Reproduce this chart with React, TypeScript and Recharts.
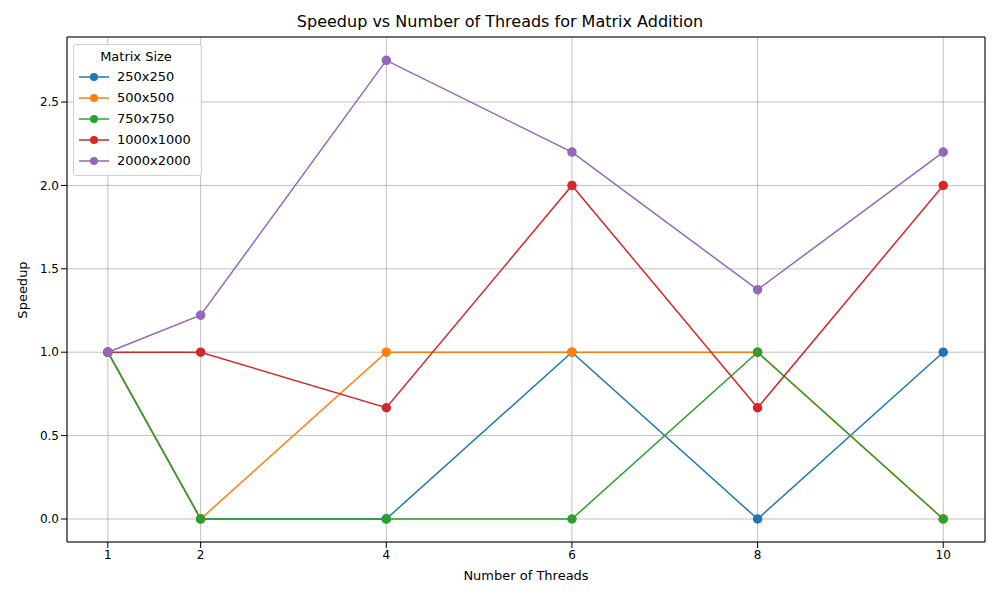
import { LineChart, Line, XAxis, YAxis, CartesianGrid, ReferenceArea } from "recharts";

document.body.style.margin = "0";

const threads = [1, 2, 4, 6, 8, 10];
const s250 = [1, 0, 0, 1, 0, 1];
const s500 = [1, 0, 1, 1, 1, 0];
const s750 = [1, 0, 0, 0, 1, 0];
const s1000 = [1, 1, 0.667, 2, 0.667, 2];
const s2000 = [1, 1.222, 2.75, 2.2, 1.375, 2.2];

const series = [
  { key: "s250", name: "250x250", color: "#1f77b4", values: s250 },
  { key: "s500", name: "500x500", color: "#ff7f0e", values: s500 },
  { key: "s750", name: "750x750", color: "#2ca02c", values: s750 },
  { key: "s1000", name: "1000x1000", color: "#d62728", values: s1000 },
  { key: "s2000", name: "2000x2000", color: "#9467bd", values: s2000 },
];

const data = threads.map((t, i) => {
  const row: Record<string, number> = { t };
  series.forEach((s) => (row[s.key] = s.values[i]));
  return row;
});

const font = "DejaVu Sans";

function LegendBox() {
  return (
    <div
      style={{
        position: "absolute",
        left: 73,
        top: 44,
        zIndex: 2,
        border: "1px solid #d0d0d0",
        borderRadius: 3,
        background: "rgba(255,255,255,0.85)",
        padding: "4px 8px 4px 5px",
        fontFamily: font,
        fontSize: 13,
        width: 114,
      }}
    >
      <div style={{ textAlign: "center", marginBottom: 2 }}>Matrix Size</div>
      {series.map((s) => (
        <div key={s.key} style={{ display: "flex", alignItems: "center", height: 21 }}>
          <svg width={30} height={12} style={{ marginRight: 8 }}>
            <line x1={0} y1={6} x2={30} y2={6} stroke={s.color} strokeWidth={1.5} />
            <circle cx={15} cy={6} r={4} fill={s.color} />
          </svg>
          {s.name}
        </div>
      ))}
    </div>
  );
}

export default function App() {
  return (
    <div style={{ position: "relative", width: 1000, height: 600, background: "#fff", fontFamily: font }}>
      <div style={{ position: "absolute", top: 12, width: 1000, textAlign: "center", fontSize: 16 }}>
        Speedup vs Number of Threads for Matrix Addition
      </div>
      <div style={{ position: "absolute", top: 568, left: 67, width: 918, textAlign: "center", fontSize: 13 }}>
        Number of Threads
      </div>
      <div
        style={{
          position: "absolute",
          left: 22,
          top: 290,
          transform: "translate(-50%,-50%) rotate(-90deg)",
          fontSize: 13,
        }}
      >
        Speedup
      </div>
      <LegendBox />
      <LineChart width={1000} height={600} data={data} margin={{ top: 37, right: 15, bottom: 0, left: 0 }}>
        <CartesianGrid stroke="#b0b0b0" strokeWidth={0.8} />
        <XAxis
          dataKey="t"
          type="number"
          domain={[0.56, 10.45]}
          ticks={threads}
          height={58}
          tick={{ fill: "#000", fontSize: 12, fontFamily: font }}
          tickLine={{ stroke: "#000" }}
          axisLine={false}
          allowDataOverflow
        />
        <YAxis
          type="number"
          domain={[-0.138, 2.89]}
          ticks={[0, 0.5, 1, 1.5, 2, 2.5]}
          tickFormatter={(v) => Number(v).toFixed(1)}
          width={67}
          tick={{ fill: "#000", fontSize: 12, fontFamily: font }}
          tickLine={{ stroke: "#000" }}
          axisLine={false}
          allowDataOverflow
        />
        <ReferenceArea x1={0.56} x2={10.45} y1={-0.138} y2={2.89} fill="none" stroke="#000" strokeWidth={1} ifOverflow="visible" />
        {series.map((s) => (
          <Line
            key={s.key}
            dataKey={s.key}
            name={s.name}
            stroke={s.color}
            strokeWidth={1.5}
            type="linear"
            dot={{ r: 4, fill: s.color, stroke: s.color }}
            isAnimationActive={false}
          />
        ))}
      </LineChart>
    </div>
  );
}
